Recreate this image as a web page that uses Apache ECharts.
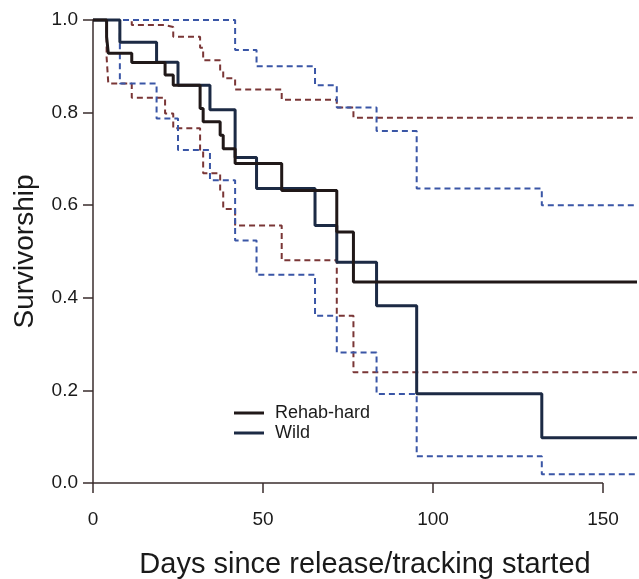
<!DOCTYPE html>
<html>
<head>
<meta charset="utf-8">
<script src="https://cdn.jsdelivr.net/npm/echarts@6/dist/echarts.min.js"></script>
<style>
html,body{margin:0;padding:0;background:#fff;}
#chart{width:639px;height:579px;}
</style>
</head>
<body>
<div id="chart"></div>
<script>
// ---- data ----
const xTicks = [0, 50, 100, 150];
const yTicks = [0, 0.2, 0.4, 0.6, 0.8, 1.0];
const axisSpan = [0, 150];

const rehabDays  = [0, 4.0, 4.5, 11.4, 21.2, 23.6, 31.5, 32.4, 37.4, 38.3, 41.8, 55.5, 71.7, 76.6, 160];
const rehabSurv  = [1, 0.964, 0.928, 0.908, 0.881, 0.859, 0.809, 0.780, 0.751, 0.722, 0.690, 0.632, 0.542, 0.434, 0.434];
const rehabLower = [1, 0.920, 0.863, 0.832, 0.798, 0.766, 0.719, 0.669, 0.630, 0.592, 0.556, 0.481, 0.361, 0.239, 0.239];
const rehabUpper = [1, 1, 1, 0.989, 0.985, 0.964, 0.940, 0.913, 0.890, 0.874, 0.850, 0.828, 0.811, 0.789, 0.789];

const wildDays  = [0, 7.9, 18.7, 25.0, 34.4, 41.8, 48.1, 65.3, 71.7, 83.4, 95.2, 132, 160];
const wildSurv  = [1, 0.952, 0.909, 0.859, 0.806, 0.703, 0.636, 0.556, 0.477, 0.383, 0.193, 0.098, 0.098];
const wildLower = [1, 0.863, 0.787, 0.719, 0.654, 0.524, 0.450, 0.361, 0.282, 0.192, 0.058, 0.019, 0.019];
const wildUpper = [1, 1, 1, 1, 1, 0.935, 0.900, 0.859, 0.811, 0.760, 0.636, 0.600, 0.600];

// ---- styling ----
const FONT = 'Liberation Sans, Arial, Helvetica, sans-serif';
const axisColor = '#3a2c2c';
const rehabColor = '#201818';
const wildColor = '#1c2a44';
const rehabCIColor = '#7a3636';
const wildCIColor = '#3a56a6';

function zip(xs, ys){ return xs.map((x,i)=>[x, ys[i]]); }

function stepSeries(name, xs, ys, color, width, dashed, z){
  return {
    name: name,
    type: 'line',
    step: 'end',
    data: zip(xs, ys),
    showSymbol: false,
    symbol: 'none',
    silent: true,
    clip: false,
    z: z,
    itemStyle: {color: color},
    lineStyle: {color: color, width: width, type: dashed ? [6, 4] : 'solid'},
    animation: false
  };
}

const chart = echarts.init(document.getElementById('chart'), null, {renderer: 'canvas'});

chart.setOption({
  animation: false,
  backgroundColor: '#ffffff',
  grid: {left: 93, top: 20, width: 544, height: 463, containLabel: false, outerBoundsMode: 'none'},
  legend: {
    orient: 'vertical',
    left: 229,
    top: 399,
    itemWidth: 30,
    itemHeight: 3,
    itemGap: 2,
    selectedMode: false,
    data: [
      {name: 'Rehab-hard', icon: 'rect'},
      {name: 'Wild', icon: 'rect'}
    ],
    textStyle: {fontFamily: FONT, fontSize: 18, color: '#1a1a1a', padding: [0, 0, 0, 6]}
  },
  xAxis: {
    type: 'value',
    min: 0,
    max: 160,
    interval: 50,
    name: 'Days since release/tracking started',
    nameLocation: 'middle',
    nameGap: 67,
    nameTextStyle: {fontFamily: FONT, fontSize: 29, color: '#1a1a1a'},
    axisLine: {show: false},
    axisTick: {show: true, length: 10, inside: false, customValues: xTicks, lineStyle: {color: axisColor, width: 1.5}},
    axisLabel: {customValues: xTicks, margin: 27, fontFamily: FONT, fontSize: 19, color: '#1a1a1a'},
    splitLine: {show: false}
  },
  yAxis: {
    type: 'value',
    min: 0,
    max: 1,
    interval: 0.2,
    name: 'Survivorship',
    nameLocation: 'middle',
    nameGap: 54,
    nameTextStyle: {fontFamily: FONT, fontSize: 28, color: '#1a1a1a'},
    axisLine: {show: true, lineStyle: {color: axisColor, width: 1.5}},
    axisTick: {show: true, length: 10, inside: false, customValues: yTicks, lineStyle: {color: axisColor, width: 1.5}},
    axisLabel: {customValues: yTicks, margin: 15, fontFamily: FONT, fontSize: 19, color: '#1a1a1a',
      formatter: v => Number(v).toFixed(1)},
    splitLine: {show: false}
  },
  series: [
    {
      name: 'xaxisline',
      type: 'line',
      data: axisSpan.map(x => [x, 0]),
      showSymbol: false, symbol: 'none', silent: true, clip: false, z: 1,
      lineStyle: {color: axisColor, width: 1.5}
    },
    stepSeries('Rehab lower', rehabDays, rehabLower, rehabCIColor, 2, true, 2),
    stepSeries('Rehab upper', rehabDays, rehabUpper, rehabCIColor, 2, true, 2),
    stepSeries('Wild lower', wildDays, wildLower, wildCIColor, 2, true, 2),
    stepSeries('Wild upper', wildDays, wildUpper, wildCIColor, 2, true, 2),
    stepSeries('Wild', wildDays, wildSurv, wildColor, 3, false, 3),
    stepSeries('Rehab-hard', rehabDays, rehabSurv, rehabColor, 3, false, 4)
  ]
});
</script>
</body>
</html>
